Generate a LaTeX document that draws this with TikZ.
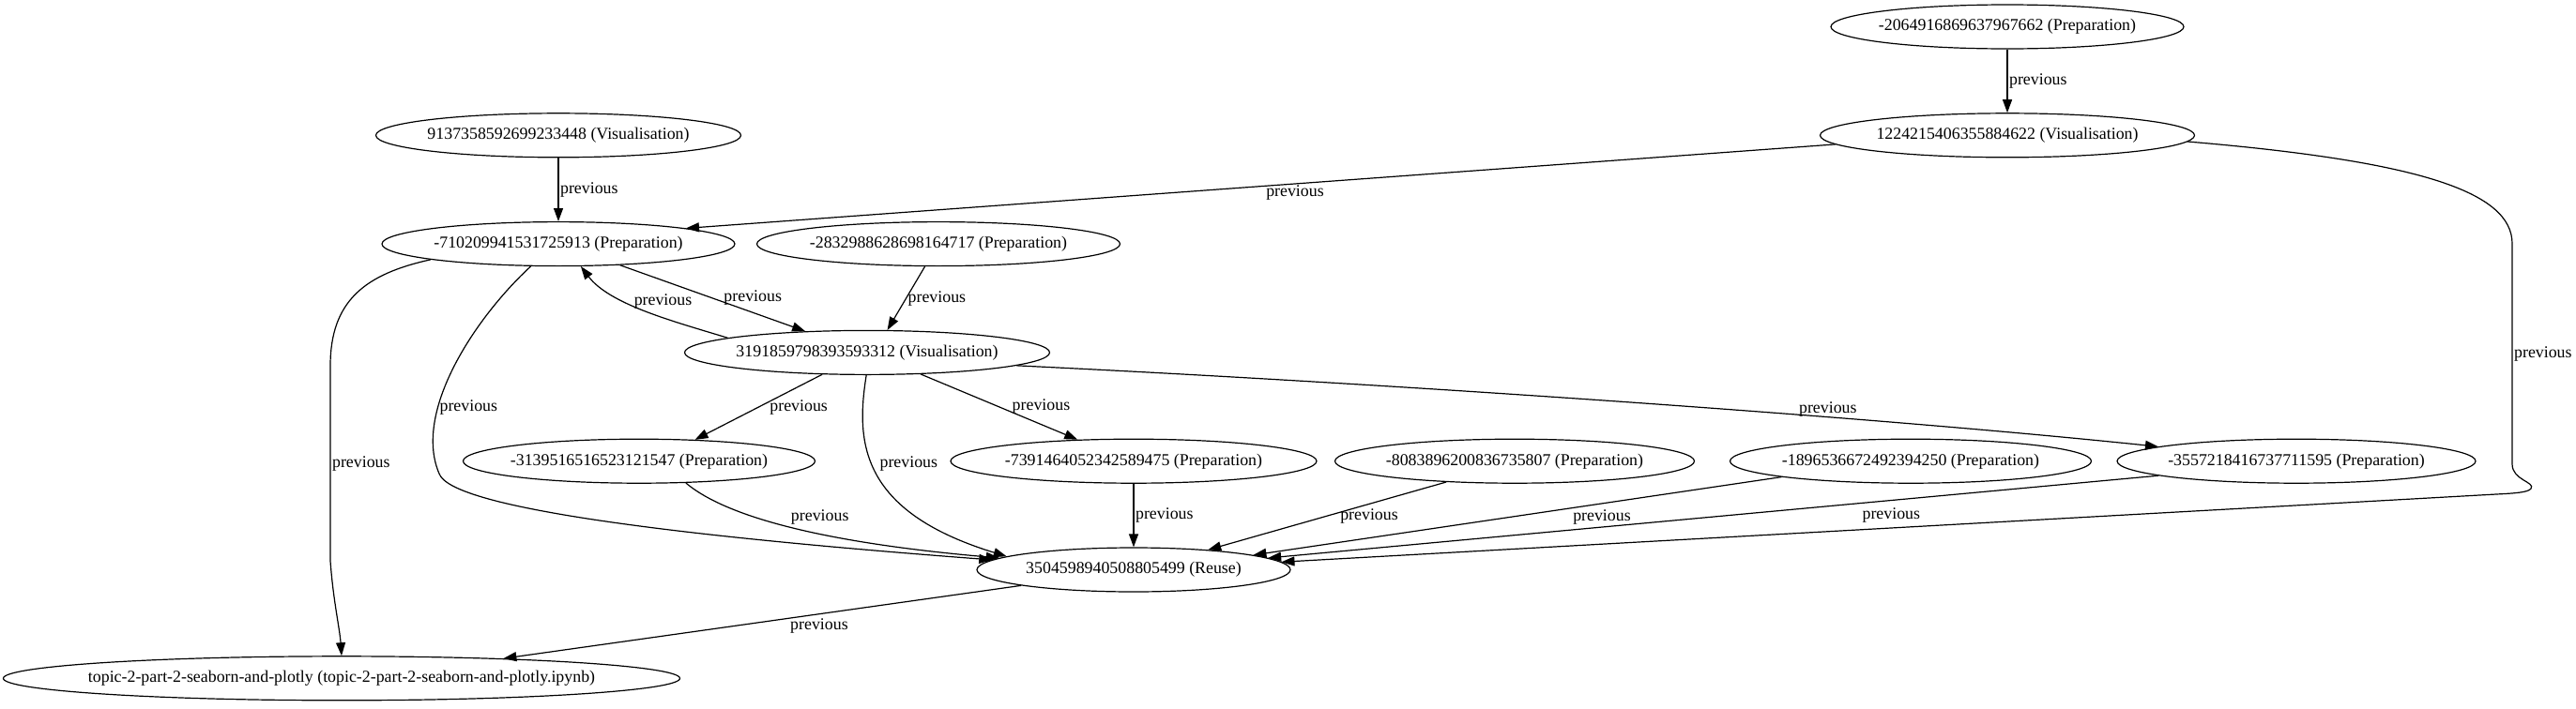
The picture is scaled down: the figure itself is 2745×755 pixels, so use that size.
\documentclass[tikz,border=0pt]{standalone}
\usepackage{fontspec}
\setmainfont{Liberation Serif}
\usetikzlibrary{positioning,arrows.meta,shapes.geometric}
\newcommand{\gvfont}{\fontsize{17.85}{20}\selectfont}
\tikzset{
  cell/.style={draw, ellipse, line width=1.2pt, inner xsep=-40pt, inner ysep=0pt,
               minimum height=47pt, font=\gvfont},
  arr/.style={-{Triangle[length=14pt, width=10pt]}, line width=1.2pt},
  lbl/.style={font=\gvfont, inner sep=1.5pt},
}

\begin{document}
\begin{tikzpicture}[x=1pt, y=-1pt]
  \useasboundingbox (0,0) rectangle (2745,755);

  \node[cell, minimum width=376pt] (p2064) at (2139,28.5) {-2064916869637967662 (Preparation)};
  \node[cell, minimum width=399pt] (v1224) at (2139,144.3) {1224215406355884622 (Visualisation)};
  \node[cell, minimum width=389pt] (v9137) at (595,144.3) {9137358592699233448 (Visualisation)};
  \node[cell, minimum width=376pt] (p7102) at (595,260.1) {-710209941531725913 (Preparation)};
  \node[cell, minimum width=387pt] (p2832) at (1000,260.1) {-2832988628698164717 (Preparation)};
  \node[cell, minimum width=389pt] (v3191) at (924,375.9) {3191859798393593312 (Visualisation)};
  \node[cell, minimum width=375pt] (p3139) at (681,491.7) {-3139516516523121547 (Preparation)};
  \node[cell, minimum width=390pt] (p7391) at (1208,491.7) {-7391464052342589475 (Preparation)};
  \node[cell, minimum width=383pt] (p8083) at (1614,491.7) {-8083896200836735807 (Preparation)};
  \node[cell, minimum width=385pt] (p1896) at (2036,491.7) {-1896536672492394250 (Preparation)};
  \node[cell, minimum width=382pt] (p3557) at (2447,491.7) {-3557218416737711595 (Preparation)};
  \node[cell, minimum width=334pt] (r3504) at (1208,607.5) {3504598940508805499 (Reuse)};
  \node[cell, minimum width=721pt] (nb) at (364,723.3)
    {topic-2-part-2-seaborn-and-plotly (topic-2-part-2-seaborn-and-plotly.ipynb)};

  \draw[arr] (p2064) -- node[lbl, right] {previous} (v1224);
  \draw[arr] (v9137) -- node[lbl, right] {previous} (p7102);
  \draw[arr] (v1224.183) -- node[lbl, pos=0.47, below] {previous} (p7102.7);
  \draw[arr] (v1224.358) .. controls (2580,172) and (2677,205) .. (2677,260)
    -- node[lbl, right] {previous} (2677,495)
    .. controls (2677,512) and (2702,514) .. (2697,521)
    .. controls (2694,525) and (2680,526) .. (2660,527)
    -- (r3504.3);
  \draw[arr] (p7102.219) .. controls (505,340) and (440,440) .. node[lbl, pos=0.68, right] {previous} (468,505)
    .. controls (480,540) and (700,570) .. (r3504.176);
  \draw[arr] (p7102.187) .. controls (390,292) and (352,320) .. (352,390)
    -- node[lbl, right] {previous} (352,598)
    .. controls (355,640) and (362,670) .. (nb.north);
  \draw[arr] (p7102.341) -- node[lbl, right=10pt] {previous} (v3191.161);
  \draw[arr] (v3191.174) .. controls (719,343) and (650,325) ..
    node[lbl, pos=0.5, anchor=south west, xshift=-14pt] {previous} (p7102.315);
  \draw[arr] (p2832.239) -- node[lbl, right] {previous} (v3191.48);
  \draw[arr] (v3191.206) -- node[lbl, right=10pt] {previous} (p3139.21);
  \draw[arr] (v3191.268) .. controls (912,470) and (915,545) .. node[lbl, pos=0.45, right=6pt] {previous} (r3504.174);
  \draw[arr] (v3191.338) -- node[lbl, right=12pt] {previous} (p7391.159);
  \draw[arr] (v3191.355) .. controls (1500,410) and (2000,445) .. node[lbl, pos=0.67, anchor=south, inner sep=0pt] {previous} (p3557.174);
  \draw[arr] (p3139.335) .. controls (790,565) and (950,585) .. node[lbl, pos=0.4, anchor=south west] {previous} (r3504.175);
  \draw[arr] (p7391) -- node[lbl, right] {previous} (r3504);
  \draw[arr] (p8083.197) -- node[lbl, right=12pt] {previous} (r3504.15);
  \draw[arr] (p1896.187) -- node[lbl, pos=0.34, below=5pt] {previous} (r3504.7);
  \draw[arr] (p3557.186) -- node[lbl, pos=0.3, below=6pt] {previous} (r3504.5);
  \draw[arr] (r3504.188) -- node[lbl, pos=0.39, below=3pt] {previous} (nb.7);
\end{tikzpicture}
\end{document}
